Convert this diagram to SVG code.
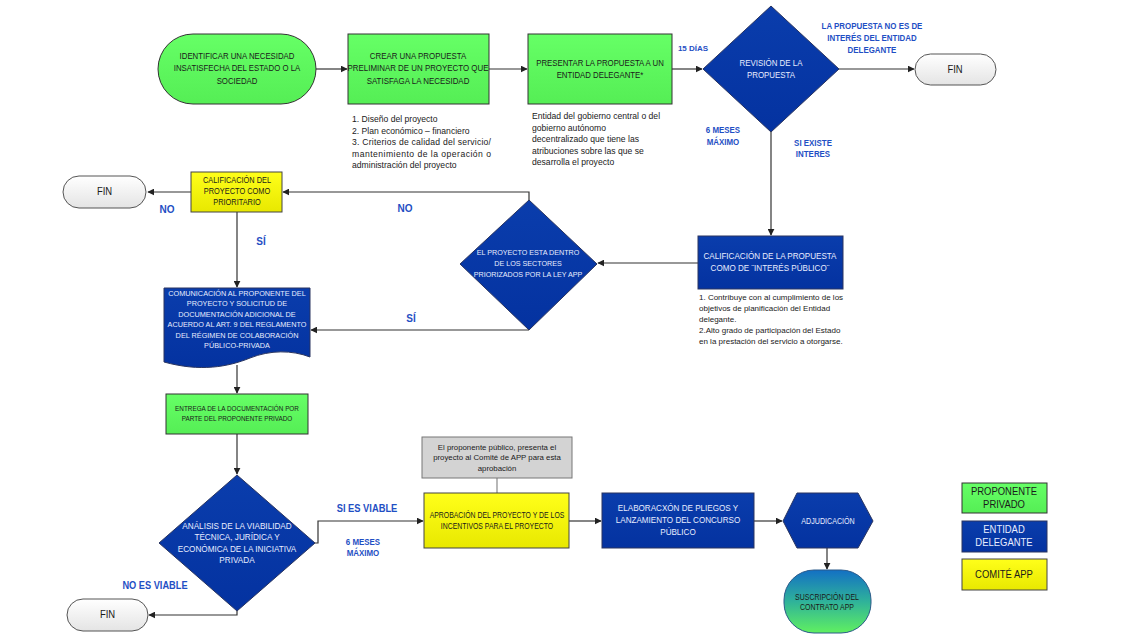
<svg xmlns="http://www.w3.org/2000/svg" width="1140" height="639" viewBox="0 0 1140 639">
<defs>
<marker id="ah" viewBox="0 0 10 10" refX="9" refY="5" markerWidth="7" markerHeight="7" orient="auto" markerUnits="userSpaceOnUse"><path d="M0,0 L10,5 L0,10 Z" fill="#222"/></marker>
<linearGradient id="fin" x1="0" y1="0" x2="0" y2="1"><stop offset="0" stop-color="#ffffff"/><stop offset="1" stop-color="#e4e4e4"/></linearGradient>
<linearGradient id="yel" x1="0" y1="0" x2="0" y2="1"><stop offset="0" stop-color="#ffff1a"/><stop offset="1" stop-color="#e8e800"/></linearGradient>
<linearGradient id="grn" x1="0" y1="0" x2="0" y2="1"><stop offset="0" stop-color="#66ff66"/><stop offset="1" stop-color="#55ee55"/></linearGradient>
<linearGradient id="blu" x1="0" y1="0" x2="0" y2="1"><stop offset="0" stop-color="#0a3dac"/><stop offset="1" stop-color="#0432a0"/></linearGradient>
<linearGradient id="sus" x1="0" y1="0" x2="0" y2="1"><stop offset="0" stop-color="#1370c4"/><stop offset="0.5" stop-color="#2fb29a"/><stop offset="1" stop-color="#60f060"/></linearGradient>
</defs>
<style>
.t{font-family:"Liberation Sans",Arial,sans-serif;text-anchor:middle}
.dk{fill:#1a1a1a}
.wh{fill:#e8edff}
.lb{font-family:"Liberation Sans",Arial,sans-serif;font-weight:bold;fill:#1f4fc4;text-anchor:middle}
.nt{font-family:"Liberation Sans",Arial,sans-serif;fill:#1a1a1a;font-size:8.6px}
.g{fill:url(#grn);stroke:#333;stroke-width:1}
.b{fill:url(#blu);stroke:#2a3560;stroke-width:1}
.y{fill:url(#yel);stroke:#444;stroke-width:1}
.f{fill:url(#fin);stroke:#555;stroke-width:1}
.c{fill:none;stroke:#333;stroke-width:1.2;marker-end:url(#ah)}
.cn{fill:none;stroke:#888;stroke-width:1.2}
</style>
<rect width="1140" height="639" fill="#ffffff"/>

<g id="connectors">
<path class="c" d="M316,69 H347"/>
<path class="c" d="M489,69 H527"/>
<path class="c" d="M672,69 H702"/>
<path class="c" d="M839,69 H914"/>
<path class="c" d="M771,132 V235"/>
<path class="c" d="M698,263 H598"/>
<path class="c" d="M529,200 V192 H283"/>
<path class="c" d="M191,192 H148"/>
<path class="c" d="M237,212 V287"/>
<path class="c" d="M529,330 H311"/>
<path class="c" d="M237,365 V393"/>
<path class="c" d="M237,434 V474"/>
<path class="c" d="M315,543 H318 V521 H423"/>
<path class="c" d="M237,611 V615 H149"/>
<path class="cn" d="M497,478 V493"/>
<path class="c" d="M569,521 H601"/>
<path class="c" d="M754,521 H782"/>
<path class="c" d="M827,548 V569"/>
</g>

<g id="n1">
<rect class="g" x="158" y="34" width="158" height="70" rx="35" ry="35"/>
<text class="t dk" font-size="9.2px" transform="matrix(0.85 0 0 1 237 0)"><tspan x="0" y="59">IDENTIFICAR UNA  NECESIDAD</tspan><tspan x="0" y="71.5">INSATISFECHA DEL ESTADO O LA</tspan><tspan x="0" y="84">SOCIEDAD</tspan></text>
</g>
<g id="n2">
<rect class="g" x="348" y="34" width="141" height="70"/>
<text class="t dk" font-size="9.2px" transform="matrix(0.86 0 0 1 418 0)"><tspan x="0" y="59">CREAR UNA PROPUESTA</tspan><tspan x="0" y="71.5">PRELIMINAR DE UN PROYECTO QUE</tspan><tspan x="0" y="84">SATISFAGA LA NECESIDAD</tspan></text>
<text class="nt"><tspan x="352" y="122">1. Diseño del proyecto</tspan><tspan x="352" y="133.5">2. Plan económico – financiero</tspan><tspan x="352" y="145" textLength="139" lengthAdjust="spacing">3. Criterios de calidad del servicio/</tspan><tspan x="352" y="156.5" textLength="139" lengthAdjust="spacing">mantenimiento de la operación o</tspan><tspan x="352" y="168">administración del proyecto</tspan></text>
</g>
<g id="n3">
<rect class="g" x="528" y="34" width="144" height="70"/>
<text class="t dk" font-size="9.2px" transform="matrix(0.85 0 0 1 600 0)"><tspan x="0" y="66">PRESENTAR LA PROPUESTA A UN</tspan><tspan x="0" y="78">ENTIDAD DELEGANTE*</tspan></text>
<text class="nt"><tspan x="532" y="119">Entidad del gobierno central o del</tspan><tspan x="532" y="130.5">gobierno autónomo</tspan><tspan x="532" y="142">decentralizado que tiene las</tspan><tspan x="532" y="153.5">atribuciones sobre las que se</tspan><tspan x="532" y="165">desarrolla el proyecto</tspan></text>
</g>
<g id="d1">
<polygon class="b" points="771,6 839,69 771,132 703,69"/>
<text class="t wh" font-size="9px" transform="matrix(0.88 0 0 1 771 0)"><tspan x="0" y="66">REVISIÓN DE LA</tspan><tspan x="0" y="78">PROPUESTA</tspan></text>
</g>
<g id="fin1">
<rect class="f" x="915" y="54" width="81" height="31" rx="15.5" ry="15.5"/>
<text class="t dk" font-size="10.5px" transform="matrix(0.9 0 0 1 955 0)" x="0" y="73">FIN</text>
</g>
<g id="n4">
<rect class="b" x="698" y="236" width="145" height="53"/>
<text class="t wh" font-size="9.4px" transform="matrix(0.86 0 0 1 770 0)"><tspan x="0" y="259">CALIFICACIÓN DE LA PROPUESTA</tspan><tspan x="0" y="271">COMO DE ¨INTERÉS PÚBLICO¨</tspan></text>
<text class="nt" style="font-size:8px"><tspan x="699" y="300">1. Contribuye con al cumplimiento de los</tspan><tspan x="699" y="311">objetivos de planificación del Entidad</tspan><tspan x="699" y="322">delegante.</tspan><tspan x="699" y="333">2.Alto grado de participación del Estado</tspan><tspan x="699" y="344">en la prestación del servicio a otorgarse.</tspan></text>
</g>
<g id="d2">
<polygon class="b" points="529,200 597,264 529,330 460,264"/>
<text class="t wh" font-size="7.8px" transform="matrix(0.92 0 0 1 528 0)"><tspan x="0" y="255">EL PROYECTO ESTA DENTRO</tspan><tspan x="0" y="266">DE LOS SECTORES</tspan><tspan x="0" y="277">PRIORIZADOS POR LA LEY APP</tspan></text>
</g>
<g id="n5">
<rect class="y" x="191" y="172" width="91" height="40"/>
<text class="t dk" font-size="8.2px" transform="matrix(0.9 0 0 1 237 0)"><tspan x="0" y="183.5">CALIFICACIÓN DEL</tspan><tspan x="0" y="194.5">PROYECTO COMO</tspan><tspan x="0" y="205">PRIORITARIO</tspan></text>
</g>
<g id="fin2">
<rect class="f" x="63" y="176" width="83" height="32" rx="16" ry="16"/>
<text class="t dk" font-size="10.5px" transform="matrix(0.9 0 0 1 104.5 0)" x="0" y="195.5">FIN</text>
</g>
<g id="n6">
<path class="b" d="M164,288 H310 V357 C292,350 270,350 250,358 C228,367 200,372 164,362 Z"/>
<text class="t wh" font-size="7.6px" transform="matrix(0.96 0 0 1 237 0)"><tspan x="0" y="296">COMUNICACIÓN AL PROPONENTE DEL</tspan><tspan x="0" y="306.5">PROYECTO Y SOLICITUD DE</tspan><tspan x="0" y="317">DOCUMENTACIÓN ADICIONAL DE</tspan><tspan x="0" y="327.5">ACUERDO AL ART. 9 DEL REGLAMENTO</tspan><tspan x="0" y="338">DEL RÉGIMEN DE COLABORACIÓN</tspan><tspan x="0" y="348.5">PÚBLICO-PRIVADA</tspan></text>
</g>
<g id="n7">
<rect class="g" x="166" y="394" width="142" height="40"/>
<text class="t dk" font-size="7.4px" transform="matrix(0.86 0 0 1 237 0)"><tspan x="0" y="411">ENTREGA DE LA DOCUMENTACIÓN POR</tspan><tspan x="0" y="421">PARTE DEL PROPONENTE PRIVADO</tspan></text>
</g>
<g id="d3">
<polygon class="b" points="237,475 315,543 237,611 159,543"/>
<text class="t wh" font-size="9.2px" transform="matrix(0.89 0 0 1 237 0)"><tspan x="0" y="529">ANÁLISIS DE LA VIABILIDAD</tspan><tspan x="0" y="540.5">TÉCNICA, JURÍDICA Y</tspan><tspan x="0" y="552">ECONÓMICA DE LA INICIATIVA</tspan><tspan x="0" y="563.5">PRIVADA</tspan></text>
</g>
<g id="fin3">
<rect class="f" x="67" y="599" width="81" height="32" rx="16" ry="16"/>
<text class="t dk" font-size="10.5px" transform="matrix(0.9 0 0 1 107.5 0)" x="0" y="618.5">FIN</text>
</g>
<g id="n8">
<rect x="422" y="437" width="150" height="41" fill="#d3d3d3" stroke="#777" stroke-width="1"/>
<text class="t dk" font-size="7.8px"><tspan x="497" y="449.5">El proponente público, presenta el</tspan><tspan x="497" y="460">proyecto al Comité de APP para esta</tspan><tspan x="497" y="470.5">aprobación</tspan></text>
</g>
<g id="n9">
<rect class="y" x="424" y="493" width="145" height="55"/>
<text class="t dk" font-size="8.4px" transform="matrix(0.82 0 0 1 497 0)"><tspan x="0" y="518">APROBACIÓN DEL PROYECTO Y DE LOS</tspan><tspan x="0" y="529">INCENTIVOS PARA EL PROYECTO</tspan></text>
</g>
<g id="n10">
<rect class="b" x="602" y="493" width="152" height="55"/>
<text class="t wh" font-size="9px" transform="matrix(0.9 0 0 1 678 0)"><tspan x="0" y="511">ELABORACXÓN DE PLIEGOS Y</tspan><tspan x="0" y="523">LANZAMIENTO DEL CONCURSO</tspan><tspan x="0" y="535">PÚBLICO</tspan></text>
</g>
<g id="n11">
<polygon class="b" points="783,521 797,493 858,493 873,521 858,548 797,548"/>
<text class="t wh" font-size="8.4px" transform="matrix(0.85 0 0 1 828 0)" x="0" y="524">ADJUDICACIÓN</text>
</g>
<g id="n12">
<rect x="784" y="570" width="87" height="63" rx="30" ry="30" fill="url(#sus)" stroke="#2a5a8a" stroke-width="1"/>
<text class="t dk" font-size="8.2px" transform="matrix(0.85 0 0 1 827 0)"><tspan x="0" y="600">SUSCRIPCIÓN DEL</tspan><tspan x="0" y="610.5">CONTRATO APP</tspan></text>
</g>

<g id="labels">
<text class="lb" font-size="8px" x="693" y="51">15 DÍAS</text>
<text class="lb" font-size="8.8px" transform="matrix(0.9 0 0 1 872 0)"><tspan x="0" y="29">LA PROPUESTA NO ES DE</tspan><tspan x="0" y="41">INTERÉS DEL ENTIDAD</tspan><tspan x="0" y="53">DELEGANTE</tspan></text>
<text class="lb" font-size="8.8px" transform="matrix(0.9 0 0 1 723 0)"><tspan x="0" y="133">6 MESES</tspan><tspan x="0" y="145">MÁXIMO</tspan></text>
<text class="lb" font-size="8.8px" transform="matrix(0.9 0 0 1 813 0)"><tspan x="0" y="146">SI EXISTE</tspan><tspan x="0" y="157">INTERES</tspan></text>
<text class="lb" font-size="10px" x="167" y="213">NO</text>
<text class="lb" font-size="10px" x="405" y="212">NO</text>
<text class="lb" font-size="10px" x="261" y="245">SÍ</text>
<text class="lb" font-size="10px" x="411" y="322">SÍ</text>
<text class="lb" font-size="11px" transform="matrix(0.85 0 0 1 367 0)" x="0" y="512">SI ES VIABLE</text>
<text class="lb" font-size="8.8px" transform="matrix(0.9 0 0 1 363 0)"><tspan x="0" y="545">6 MESES</tspan><tspan x="0" y="556">MÁXIMO</tspan></text>
<text class="lb" font-size="10.5px" transform="matrix(0.88 0 0 1 155 0)" x="0" y="589">NO ES VIABLE</text>
</g>

<g id="legend">
<rect class="g" x="962" y="483" width="85" height="30"/>
<text class="t dk" font-size="11px" transform="matrix(0.86 0 0 1 1004 0)"><tspan x="0" y="495">PROPONENTE</tspan><tspan x="0" y="508.5">PRIVADO</tspan></text>
<rect class="b" x="962" y="521" width="85" height="31"/>
<text class="t wh" font-size="11px" transform="matrix(0.86 0 0 1 1004 0)"><tspan x="0" y="533">ENTIDAD</tspan><tspan x="0" y="546.5">DELEGANTE</tspan></text>
<rect class="y" x="962" y="559" width="85" height="31"/>
<text class="t dk" font-size="11px" transform="matrix(0.86 0 0 1 1004 0)" x="0" y="578.5">COMITÉ APP</text>
</g>
</svg>
